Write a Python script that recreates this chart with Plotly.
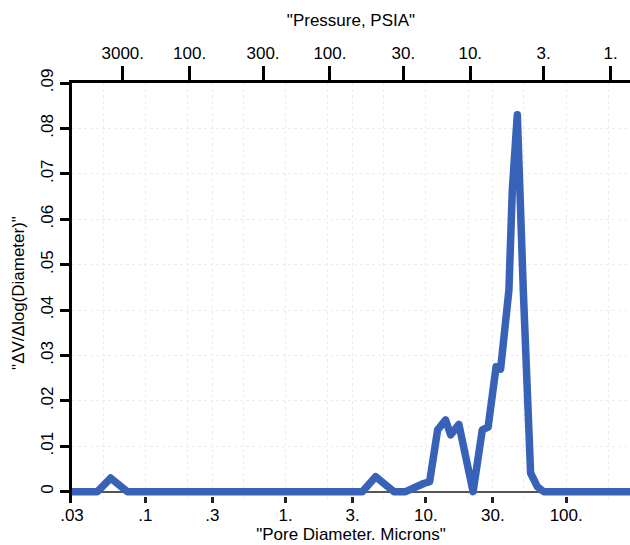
import math
import plotly.graph_objects as go

# ---- data ----
diameter_um = [0.03, 0.0455, 0.0566, 0.0744, 3.52, 4.38, 5.91, 7.17, 9.63, 10.63,
               12.12, 13.81, 15.0, 17.19, 21.7, 25.23, 27.75, 29.89, 31.65, 34.07,
               36.38, 39.05, 41.29, 44.82, 49.45, 52.22, 55.75, 62.23, 69.0, 285]
dv_dlogd = [0, 0, 0.0030, 0, 0, 0.0033, 0, 0, 0.0018, 0.0022,
            0.0136, 0.0158, 0.0125, 0.0148, 0, 0.0136, 0.0142, 0.0239, 0.0275, 0.0270,
            0.0356, 0.0444, 0.0664, 0.0830, 0.0444, 0.0224, 0.0041, 0.0011, 0, 0]

diam_tickvals = [0.03, 0.1, 0.3, 1, 3, 10, 30, 100]
diam_ticktext = [".03", ".1", ".3", "1.", "3.", "10.", "30.", "100."]
diam_minor = [0.05, 0.2, 0.5, 2, 5, 20, 50, 200]

pressure_tickvals = [3000, 1000, 300, 100, 30, 10, 3, 1]
pressure_ticktext = ["3000.", "100.", "300.", "100.", "30.", "10.", "3.", "1."]

y_tickvals = [0, 0.01, 0.02, 0.03, 0.04, 0.05, 0.06, 0.07, 0.08, 0.09]
y_ticktext = ["0", ".01", ".02", ".03", ".04", ".05", ".06", ".07", ".08", ".09"]

WASHBURN_K = 207.0       # pore diameter (um) = K / pressure (psia)
D_MIN, D_MAX = 0.03, 285.0

FONT = "Arial, 'Liberation Sans', sans-serif"
BLUE = "#3762b8"
GRID = "#ededed"
FS = 17

fig = go.Figure()
fig.add_trace(go.Scatter(
    x=diameter_um, y=dv_dlogd, mode="lines",
    line=dict(color=BLUE, width=7.5), showlegend=False, hoverinfo="x+y",
    xaxis="x", yaxis="y"))
# invisible trace so the pressure axis exists
fig.add_trace(go.Scatter(
    x=pressure_tickvals, y=[None] * len(pressure_tickvals), mode="lines",
    showlegend=False, hoverinfo="skip", xaxis="x2", yaxis="y"))

fig.update_layout(
    width=630, height=545,
    margin=dict(l=72, r=0, t=83, b=42),
    paper_bgcolor="white", plot_bgcolor="white",
    font=dict(family=FONT, size=FS, color="black"),
    xaxis=dict(
        type="log", range=[math.log10(D_MIN), math.log10(D_MAX)],
        tickmode="array", tickvals=diam_tickvals, ticktext=diam_ticktext,
        ticks="inside", ticklen=6, tickwidth=3, tickcolor="#222",
        showline=False, showgrid=True, gridcolor=GRID, griddash="dot", gridwidth=1,
        minor=dict(tickvals=diam_minor, showgrid=True, gridcolor=GRID, griddash="dot", ticks=""),
        zeroline=False,
        tickfont=dict(size=FS),
        title=dict(text='"Pore Diameter. Microns"', font=dict(size=FS), standoff=2),
    ),
    xaxis2=dict(
        type="log", overlaying="x", side="top", anchor="y",
        range=[math.log10(WASHBURN_K / D_MIN), math.log10(WASHBURN_K / D_MAX)],
        tickmode="array", tickvals=pressure_tickvals, ticktext=pressure_ticktext,
        ticks="outside", ticklen=14, tickwidth=3, tickcolor="black",
        showline=True, linewidth=3, linecolor="black",
        showgrid=False, zeroline=False,
        tickfont=dict(size=FS),
        title=dict(text='"Pressure, PSIA"', font=dict(size=FS), standoff=14),
    ),
    yaxis=dict(
        range=[-0.0025, 0.09],
        tickmode="array", tickvals=y_tickvals, ticktext=y_ticktext,
        tickangle=-90,
        ticks="outside", ticklen=9, tickwidth=3, tickcolor="black",
        showline=True, linewidth=3, linecolor="black",
        showgrid=True, gridcolor=GRID, griddash="dot",
        zeroline=True, zerolinecolor="#555", zerolinewidth=2,
        tickfont=dict(size=FS),
        title=dict(text='"ΔV/Δlog(Diameter)"', font=dict(size=FS), standoff=10),
    ),
)

post = (
    "document.body.style.margin='0';"
    "document.querySelectorAll('.scatterlayer path.js-line').forEach(function(p){"
    "p.style.strokeLinejoin='round';p.style.strokeLinecap='round';});"
)
fig.write_html("out.html", post_script=post, config={"displayModeBar": False})
